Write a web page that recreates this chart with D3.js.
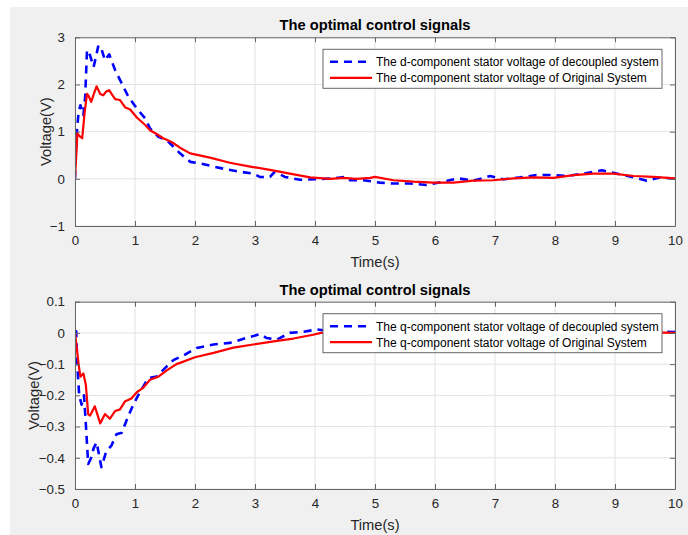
<!DOCTYPE html>
<html>
<head>
<meta charset="utf-8">
<script src="https://cdn.jsdelivr.net/npm/d3@7"></script>
<style>
  html, body { margin: 0; padding: 0; background: #ffffff; }
  svg { display: block; font-family: "Liberation Sans", Arial, Helvetica, sans-serif; }
</style>
</head>
<body>
<svg id="fig" width="688" height="535"></svg>
<script>
// ---- d-component stator voltage ----
const dDecoupledT = [0, 0.02, 0.06, 0.09, 0.14, 0.17, 0.2, 0.25, 0.31, 0.35, 0.39, 0.44, 0.5, 0.57, 0.67, 0.78, 0.89, 1.03, 1.17, 1.25, 1.39, 1.53, 1.67, 1.75, 1.92, 2.08, 2.31, 2.53, 2.75, 2.97, 3.08, 3.25, 3.33, 3.5, 3.75, 4.0, 4.31, 4.5, 4.58, 4.81, 5.08, 5.31, 5.58, 5.86, 6.14, 6.39, 6.64, 6.92, 7.14, 7.42, 7.69, 7.92, 8.19, 8.47, 8.78, 8.97, 9.31, 9.53, 9.75, 10];
const dDecoupledV = [0, 0.82, 1.42, 1.56, 1.35, 1.74, 2.73, 2.62, 2.37, 2.59, 2.83, 2.76, 2.51, 2.64, 2.3, 2.02, 1.74, 1.49, 1.28, 1.07, 0.89, 0.82, 0.64, 0.54, 0.36, 0.33, 0.26, 0.2, 0.15, 0.11, 0.04, 0.04, 0.15, 0.04, -0.02, -0.01, 0.01, 0.04, -0.03, -0.03, -0.08, -0.1, -0.1, -0.13, -0.06, 0.01, -0.04, 0.06, -0.01, 0.03, 0.08, 0.08, 0.06, 0.11, 0.18, 0.13, 0.03, -0.04, 0.03, 0];
const dOriginalT = [0, 0.04, 0.08, 0.12, 0.16, 0.2, 0.23, 0.27, 0.32, 0.36, 0.42, 0.47, 0.52, 0.57, 0.62, 0.67, 0.75, 0.84, 0.92, 1.03, 1.17, 1.25, 1.36, 1.47, 1.61, 1.75, 1.92, 2.25, 2.58, 2.92, 3.25, 3.58, 3.92, 4.25, 4.47, 4.69, 4.92, 5.0, 5.31, 5.64, 5.97, 6.31, 6.64, 6.97, 7.31, 7.64, 7.97, 8.31, 8.64, 8.97, 9.31, 9.64, 10];
const dOriginalV = [0, 0.96, 0.9, 0.86, 1.4, 1.8, 1.75, 1.63, 1.82, 1.96, 1.8, 1.77, 1.85, 1.88, 1.78, 1.69, 1.67, 1.51, 1.47, 1.3, 1.14, 1.03, 0.95, 0.86, 0.78, 0.66, 0.54, 0.45, 0.34, 0.26, 0.19, 0.11, 0.03, 0.0, 0.02, 0.0, 0.02, 0.04, -0.03, -0.06, -0.08, -0.08, -0.04, -0.03, 0.01, 0.03, 0.02, 0.08, 0.11, 0.11, 0.06, 0.04, 0.01];

// ---- q-component stator voltage ----
const qDecoupledT = [0, 0.02, 0.04, 0.07, 0.11, 0.15, 0.18, 0.22, 0.27, 0.31, 0.36, 0.44, 0.52, 0.61, 0.69, 0.78, 0.86, 0.97, 1.08, 1.22, 1.36, 1.53, 1.64, 1.81, 2.03, 2.31, 2.58, 2.86, 3.08, 3.19, 3.36, 3.58, 3.81, 4.03, 4.3, 5, 6, 7, 8, 9, 9.8, 10];
const qDecoupledV = [0, 0.005, -0.11, -0.2, -0.23, -0.2, -0.29, -0.42, -0.4, -0.37, -0.35, -0.43, -0.38, -0.36, -0.325, -0.32, -0.28, -0.23, -0.19, -0.145, -0.14, -0.107, -0.087, -0.072, -0.048, -0.037, -0.032, -0.016, -0.004, -0.016, -0.022, 0, 0.004, 0.011, 0.005, 0.004, 0.006, 0.004, 0.005, 0.004, 0.004, 0.003];
const qOriginalT = [0, 0.06, 0.09, 0.14, 0.18, 0.22, 0.25, 0.33, 0.42, 0.5, 0.58, 0.67, 0.75, 0.83, 0.94, 1.03, 1.14, 1.25, 1.39, 1.53, 1.69, 1.75, 2.0, 2.31, 2.64, 2.97, 3.31, 3.64, 3.97, 4.1, 4.6, 5.5, 6.5, 7.5, 8.5, 9.5, 9.8, 10];
const qOriginalV = [0, -0.10, -0.14, -0.13, -0.165, -0.26, -0.265, -0.235, -0.29, -0.26, -0.275, -0.25, -0.245, -0.22, -0.21, -0.19, -0.175, -0.15, -0.14, -0.12, -0.10, -0.096, -0.078, -0.064, -0.047, -0.037, -0.027, -0.018, -0.006, 0, 0.002, 0.004, 0.003, 0.002, 0.002, 0.001, 0.001, 0];

// ---- axes ticks ----
const xTicks = [0, 1, 2, 3, 4, 5, 6, 7, 8, 9, 10];
const dYTicks = [-1, 0, 1, 2, 3];
const qYTicks = [-0.5, -0.4, -0.3, -0.2, -0.1, 0, 0.1];

const titleText = "The optimal control signals";
const xLabel = "Time(s)";
const yLabel = "Voltage(V)";
const dLegend = ["The d-component stator voltage of decoupled system", "The d-component stator voltage of Original System"];
const qLegend = ["The q-component stator voltage of decoupled system", "The q-component stator voltage of Original System"];

const svg = d3.select("#fig");
const W = 688, H = 535;

// figure background
svg.append("rect").attr("x", 0).attr("y", 0).attr("width", W).attr("height", H).attr("fill", "#ffffff");
svg.append("rect").attr("x", 10).attr("y", 7).attr("width", W - 10).attr("height", H - 7).attr("fill", "#f0f0f0");

const TEXT = "#262626";
const AXIS = "#666666";
const GRID = "#e3e3e3";

function panel(cfg) {
  const { top, bottom, yDomain, yTicks, yFmt, series, legend, id, ylabelX } = cfg;
  const left = 75, right = 675;
  const x = d3.scaleLinear().domain([0, 10]).range([left, right]);
  const y = d3.scaleLinear().domain(yDomain).range([bottom, top]);
  const g = svg.append("g");

  g.append("rect").attr("x", left).attr("y", top).attr("width", right - left).attr("height", bottom - top).attr("fill", "#ffffff");

  // grid
  g.append("g").selectAll("line").data(xTicks).join("line")
    .attr("x1", d => x(d)).attr("x2", d => x(d)).attr("y1", top).attr("y2", bottom)
    .attr("stroke", GRID).attr("stroke-width", 1);
  g.append("g").selectAll("line").data(yTicks).join("line")
    .attr("x1", left).attr("x2", right).attr("y1", d => y(d)).attr("y2", d => y(d))
    .attr("stroke", GRID).attr("stroke-width", 1);

  // data lines
  const clipId = "clip-" + id;
  svg.append("clipPath").attr("id", clipId).append("rect")
    .attr("x", left).attr("y", top).attr("width", right - left).attr("height", bottom - top);
  const line = d3.line().x(d => x(d[0])).y(d => y(d[1]));
  const lines = g.append("g").attr("clip-path", `url(#${clipId})`);
  series.forEach(s => {
    const pts = s.t.map((t, i) => [t, s.v[i]]);
    lines.append("path").datum(pts).attr("d", line)
      .attr("fill", "none").attr("stroke", s.color).attr("stroke-width", s.width)
      .attr("stroke-dasharray", s.dash || null)
      .attr("stroke-linejoin", "round").attr("stroke-linecap", "butt");
  });

  // axes with inward ticks on all four sides
  const axB = d3.axisBottom(x).tickValues(xTicks).tickSizeInner(-5).tickSizeOuter(0).tickPadding(10).tickFormat(d3.format("d"));
  const axT = d3.axisTop(x).tickValues(xTicks).tickSizeInner(-5).tickSizeOuter(0).tickFormat("");
  const axL = d3.axisLeft(y).tickValues(yTicks).tickSizeInner(-5).tickSizeOuter(0).tickPadding(10).tickFormat(yFmt);
  const axR = d3.axisRight(y).tickValues(yTicks).tickSizeInner(-5).tickSizeOuter(0).tickFormat("");
  const styleAxis = sel => {
    sel.select(".domain").attr("stroke", AXIS).attr("stroke-width", 1);
    sel.selectAll(".tick line").attr("stroke", AXIS);
    sel.selectAll(".tick text").attr("fill", TEXT).style("font-size", "13.3px").style("font-family", "'Liberation Sans', Arial, sans-serif");
  };
  g.append("g").attr("transform", `translate(0,${bottom})`).call(axB).call(styleAxis);
  g.append("g").attr("transform", `translate(0,${top})`).call(axT).call(styleAxis);
  g.append("g").attr("transform", `translate(${left},0)`).call(axL).call(styleAxis);
  g.append("g").attr("transform", `translate(${right},0)`).call(axR).call(styleAxis);

  // title & labels
  g.append("text").attr("x", (left + right) / 2).attr("y", top - 7).attr("text-anchor", "middle")
    .attr("fill", "#000").style("font-size", "14.7px").style("font-weight", "bold").text(titleText);
  g.append("text").attr("x", (left + right) / 2).attr("y", bottom + 41).attr("text-anchor", "middle")
    .attr("fill", TEXT).style("font-size", "14.7px").text(xLabel);
  g.append("text").attr("transform", `translate(${ylabelX},${(top + bottom) / 2}) rotate(-90)`)
    .attr("text-anchor", "middle").attr("fill", TEXT).style("font-size", "14.7px").text(yLabel);

  // legend
  const lx = 323, ly = top + 12, lw = 339, lh = 39;
  const lg = g.append("g");
  lg.append("rect").attr("x", lx).attr("y", ly).attr("width", lw).attr("height", lh)
    .attr("fill", "#ffffff").attr("stroke", AXIS).attr("stroke-width", 1);
  series.forEach((s, i) => {
    const yy = ly + 12.5 + i * 16;
    lg.append("line").attr("x1", lx + 7).attr("x2", lx + 49).attr("y1", yy).attr("y2", yy)
      .attr("stroke", s.color).attr("stroke-width", s.width).attr("stroke-dasharray", s.dash || null);
    lg.append("text").attr("x", lx + 53).attr("y", yy + 4.3).attr("fill", "#000")
      .style("font-size", "12px").text(legend[i]);
  });
}

panel({
  id: "d", top: 37.3, bottom: 226, yDomain: [-1, 3], yTicks: dYTicks, yFmt: d3.format("d"), ylabelX: 51,
  legend: dLegend,
  series: [
    { t: dDecoupledT, v: dDecoupledV, color: "#0000ff", width: 2.6, dash: "8,6" },
    { t: dOriginalT, v: dOriginalV, color: "#ff0000", width: 2.2 }
  ]
});

panel({
  id: "q", top: 301.7, bottom: 489, yDomain: [-0.5, 0.1], yTicks: qYTicks,
  yFmt: d => (d === 0 ? "0" : d3.format(".1f")(d)), ylabelX: 39,
  legend: qLegend,
  series: [
    { t: qDecoupledT, v: qDecoupledV, color: "#0000ff", width: 2.6, dash: "8,6" },
    { t: qOriginalT, v: qOriginalV, color: "#ff0000", width: 2.2 }
  ]
});
</script>
</body>
</html>
